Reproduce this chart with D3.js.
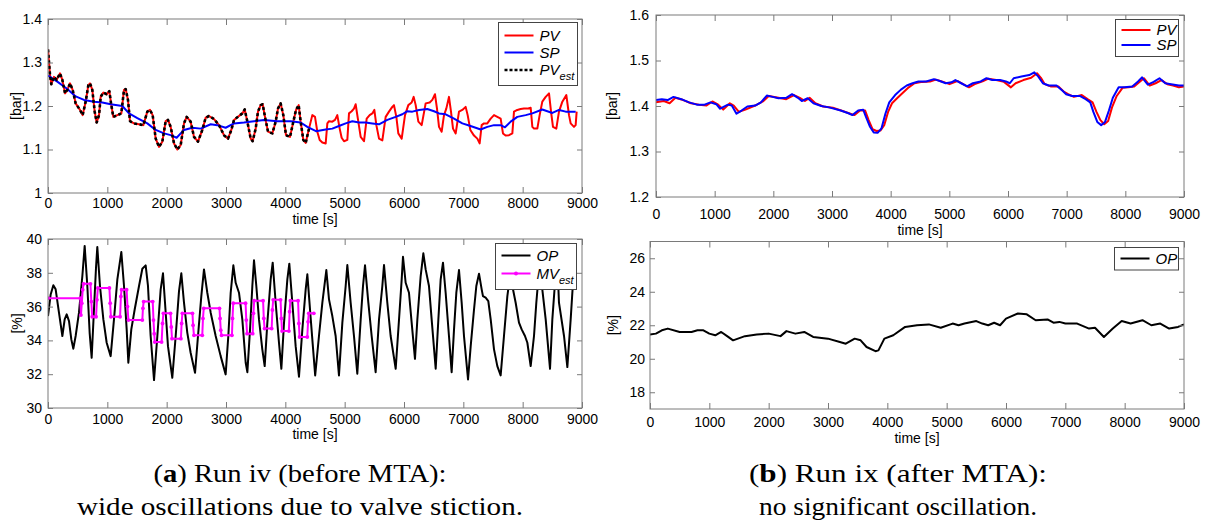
<!DOCTYPE html>
<html>
<head>
<meta charset="utf-8">
<script src="https://cdnjs.cloudflare.com/ajax/libs/d3/7.8.5/d3.min.js"></script>
<style>
body { margin: 0; background: #fff; }
svg text { font-family: "Liberation Sans", Arial, sans-serif; }
</style>
</head>
<body>
<script>
// ---- data, [time s, value] ----
const timeTicks = [0, 1000, 2000, 3000, 4000, 5000, 6000, 7000, 8000, 9000];

// (a) run iv, pressure
const pvA = [[0,1.33],[34,1.271],[56,1.250],[101,1.267],[146,1.260],[202,1.275],[242,1.260],[287,1.229],[326,1.237],[371,1.252],[416,1.237],[466,1.206],[539,1.191],[584,1.179],[635,1.210],[680,1.248],[708,1.252],[747,1.237],[787,1.187],[820,1.162],[860,1.179],[888,1.221],[933,1.231],[989,1.227],[1034,1.234],[1067,1.202],[1101,1.175],[1169,1.179],[1236,1.183],[1281,1.237],[1309,1.239],[1348,1.214],[1382,1.165],[1449,1.160],[1534,1.158],[1607,1.156],[1674,1.187],[1719,1.191],[1764,1.179],[1815,1.125],[1871,1.106],[1927,1.118],[1983,1.165],[2022,1.168],[2067,1.152],[2124,1.114],[2180,1.100],[2236,1.110],[2292,1.160],[2337,1.175],[2404,1.164],[2461,1.129],[2528,1.118],[2601,1.145],[2657,1.173],[2713,1.177],[2798,1.170],[2882,1.156],[2966,1.133],[3034,1.125],[3090,1.145],[3135,1.168],[3191,1.174],[3275,1.183],[3315,1.192],[3360,1.164],[3416,1.125],[3449,1.119],[3500,1.148],[3539,1.187],[3584,1.202],[3618,1.204],[3663,1.171],[3708,1.141],[3781,1.137],[3837,1.164],[3876,1.194],[3921,1.206],[3966,1.179],[4011,1.133],[4079,1.129],[4135,1.164],[4180,1.191],[4225,1.202],[4258,1.164],[4303,1.122],[4343,1.115],[4399,1.148],[4455,1.179],[4500,1.175],[4539,1.141],[4579,1.122],[4624,1.116],[4680,1.114],[4708,1.160],[4736,1.165],[4792,1.164],[4837,1.168],[4876,1.179],[4916,1.148],[4949,1.127],[4989,1.119],[5045,1.122],[5073,1.183],[5118,1.188],[5157,1.194],[5185,1.204],[5230,1.164],[5270,1.129],[5326,1.119],[5371,1.171],[5421,1.179],[5466,1.183],[5500,1.191],[5534,1.156],[5579,1.125],[5635,1.121],[5691,1.175],[5747,1.187],[5803,1.198],[5831,1.202],[5871,1.175],[5904,1.137],[5961,1.125],[6017,1.179],[6073,1.202],[6129,1.208],[6163,1.221],[6197,1.202],[6242,1.164],[6298,1.156],[6365,1.206],[6433,1.208],[6477,1.214],[6522,1.227],[6556,1.194],[6590,1.152],[6635,1.141],[6674,1.179],[6713,1.194],[6758,1.221],[6792,1.187],[6826,1.148],[6871,1.137],[6927,1.187],[6983,1.191],[7039,1.198],[7073,1.179],[7118,1.145],[7180,1.132],[7236,1.125],[7275,1.114],[7309,1.156],[7348,1.160],[7404,1.160],[7461,1.171],[7517,1.179],[7573,1.175],[7629,1.171],[7668,1.137],[7713,1.132],[7770,1.133],[7826,1.137],[7854,1.187],[7910,1.191],[7966,1.193],[8022,1.194],[8079,1.194],[8135,1.196],[8163,1.152],[8191,1.148],[8247,1.148],[8286,1.179],[8331,1.210],[8388,1.221],[8444,1.229],[8478,1.187],[8511,1.152],[8567,1.148],[8612,1.187],[8669,1.210],[8736,1.225],[8781,1.179],[8809,1.160],[8865,1.152],[8893,1.156],[8910,1.187]];
const spA = [[0,1.270],[157,1.256],[326,1.239],[466,1.222],[607,1.214],[775,1.210],[916,1.208],[1056,1.204],[1253,1.200],[1365,1.183],[1506,1.172],[1674,1.160],[1815,1.145],[1955,1.137],[2067,1.133],[2168,1.127],[2292,1.145],[2433,1.150],[2573,1.148],[2742,1.158],[2854,1.156],[2994,1.150],[3135,1.160],[3303,1.162],[3472,1.165],[3640,1.168],[3865,1.165],[4090,1.165],[4258,1.162],[4371,1.152],[4517,1.142],[4680,1.146],[4792,1.148],[4904,1.154],[5017,1.160],[5129,1.165],[5242,1.162],[5354,1.162],[5466,1.160],[5579,1.158],[5719,1.168],[5860,1.175],[5972,1.181],[6056,1.188],[6140,1.187],[6253,1.191],[6393,1.193],[6506,1.188],[6590,1.183],[6702,1.181],[6843,1.171],[6983,1.160],[7096,1.155],[7208,1.150],[7292,1.146],[7404,1.152],[7517,1.156],[7629,1.156],[7702,1.151],[7798,1.164],[7910,1.175],[8051,1.179],[8163,1.183],[8331,1.192],[8416,1.188],[8500,1.184],[8613,1.191],[8725,1.187],[8893,1.187]];
const pvEstEnd = 4420;   // the PV estimate is only shown up to here
const barTicksA = [1, 1.1, 1.2, 1.3, 1.4];

// (a) run iv, controller output and estimated valve position
const opA = [[0,35.44],[45,36.72],[90,37.26],[129,37.02],[185,35.64],[242,34.26],[281,35.24],[315,35.54],[354,35.14],[393,34.06],[427,33.51],[466,34.26],[522,35.64],[579,37.81],[618,39.59],[663,37.22],[702,34.45],[736,32.97],[775,35.83],[809,38.30],[831,39.53],[876,37.22],[933,35.24],[989,33.86],[1056,33.07],[1112,35.24],[1169,37.61],[1236,39.23],[1281,37.22],[1326,34.65],[1354,32.68],[1404,34.65],[1461,35.83],[1534,37.22],[1590,38.24],[1646,38.44],[1685,37.22],[1730,34.26],[1787,31.65],[1843,34.26],[1899,37.02],[1938,37.97],[1972,36.23],[2022,33.66],[2095,31.79],[2152,34.26],[2208,36.92],[2247,37.97],[2292,36.23],[2348,34.45],[2404,33.27],[2478,32.08],[2528,34.26],[2584,36.62],[2629,38.20],[2685,36.82],[2742,35.64],[2826,34.26],[2910,33.07],[2994,31.99],[3039,34.26],[3079,36.82],[3124,38.44],[3163,37.41],[3219,36.82],[3275,35.24],[3332,32.68],[3360,32.12],[3405,34.65],[3444,37.22],[3472,38.74],[3511,37.22],[3556,35.24],[3612,33.47],[3652,32.48],[3697,35.05],[3753,37.61],[3787,38.60],[3837,36.23],[3893,33.86],[3933,32.32],[3978,35.05],[4034,37.61],[4067,38.54],[4118,36.23],[4174,33.66],[4230,31.85],[4287,34.65],[4343,37.02],[4371,37.91],[4416,35.83],[4455,34.06],[4503,31.93],[4567,34.26],[4624,36.23],[4691,38.16],[4736,36.43],[4792,35.44],[4848,34.26],[4904,31.93],[4961,35.05],[5017,37.22],[5045,38.46],[5101,36.23],[5157,34.26],[5213,32.03],[5270,35.24],[5309,37.22],[5343,38.44],[5399,36.23],[5455,34.26],[5522,32.12],[5579,35.24],[5635,37.22],[5663,38.46],[5719,36.23],[5775,34.26],[5860,32.32],[5916,35.24],[5961,37.61],[5983,38.95],[6028,37.41],[6084,36.82],[6129,35.05],[6185,32.91],[6225,35.24],[6281,37.81],[6326,39.15],[6365,38.20],[6421,37.22],[6466,35.24],[6534,32.32],[6579,35.24],[6618,37.61],[6657,38.60],[6702,36.82],[6758,34.26],[6803,32.12],[6843,34.65],[6882,36.82],[6927,38.16],[6972,36.23],[7011,34.26],[7079,31.69],[7124,33.66],[7180,35.83],[7219,37.22],[7264,37.95],[7309,37.02],[7331,36.62],[7376,36.53],[7421,36.33],[7461,35.24],[7517,33.47],[7573,32.48],[7629,31.93],[7685,34.26],[7742,36.62],[7786,37.81],[7826,37.22],[7882,36.23],[7938,35.05],[7983,34.65],[8039,34.26],[8079,33.86],[8135,32.48],[8191,34.26],[8230,36.23],[8280,38.3],[8331,37.02],[8388,35.24],[8461,32.32],[8500,35.24],[8545,37.41],[8585,38.6],[8612,36.23],[8697,34.26],[8753,32.42],[8809,35.24],[8848,37.41],[8880,38.2]];
const mvEstA = [[0,36.5],[545,36.5],[555,35.5],[570,36.2],[585,37.0],[600,37.35],[715,37.35],[730,36.3],[745,35.4],[810,35.4],[825,36.4],[840,37.1],[1035,37.1],[1048,36.2],[1060,35.4],[1215,35.4],[1228,36.6],[1240,37.0],[1325,37.0],[1340,36.0],[1355,35.2],[1590,35.2],[1600,35.9],[1612,36.3],[1765,36.3],[1778,35.2],[1790,34.4],[1800,33.9],[1915,33.9],[1930,35.0],[1945,35.6],[2065,35.6],[2078,34.8],[2090,34.1],[2240,34.1],[2252,35.0],[2265,35.6],[2435,35.6],[2445,34.9],[2460,34.3],[2600,34.3],[2612,35.3],[2625,35.9],[2890,35.9],[2900,35.3],[2912,34.6],[2925,34.3],[3100,34.3],[3110,35.3],[3122,36.2],[3330,36.2],[3342,35.2],[3355,34.4],[3450,34.4],[3462,35.6],[3475,36.35],[3625,36.35],[3637,35.3],[3650,34.7],[3770,34.7],[3782,35.8],[3795,36.4],[3920,36.4],[3932,35.3],[3945,34.55],[4060,34.55],[4072,35.7],[4085,36.35],[4215,36.35],[4228,35.0],[4240,34.2],[4370,34.2],[4383,35.1],[4395,35.6],[4480,35.6]];
const pctTicksA = [30, 32, 34, 36, 38, 40];

// (b) run ix, pressure
const pvB = [[0,1.408],[133,1.411],[232,1.406],[331,1.418],[464,1.413],[596,1.406],[729,1.403],[862,1.401],[961,1.410],[1060,1.403],[1146,1.392],[1259,1.406],[1325,1.401],[1412,1.387],[1524,1.392],[1690,1.401],[1822,1.410],[1922,1.422],[2088,1.418],[2220,1.415],[2353,1.424],[2452,1.418],[2538,1.411],[2618,1.418],[2717,1.406],[2850,1.399],[3015,1.396],[3181,1.389],[3314,1.383],[3380,1.380],[3479,1.390],[3565,1.390],[3625,1.369],[3691,1.349],[3758,1.345],[3824,1.346],[3890,1.358],[3956,1.387],[4023,1.406],[4109,1.417],[4208,1.429],[4308,1.441],[4407,1.450],[4539,1.453],[4672,1.454],[4771,1.458],[4871,1.454],[5003,1.448],[5136,1.455],[5235,1.448],[5335,1.441],[5434,1.448],[5567,1.454],[5666,1.460],[5799,1.457],[5931,1.453],[6050,1.441],[6130,1.450],[6262,1.457],[6395,1.462],[6494,1.472],[6561,1.462],[6627,1.448],[6726,1.443],[6859,1.443],[6958,1.431],[7025,1.426],[7124,1.420],[7257,1.424],[7356,1.415],[7442,1.408],[7508,1.387],[7575,1.369],[7641,1.360],[7707,1.367],[7773,1.397],[7853,1.422],[7952,1.440],[8052,1.441],[8151,1.443],[8251,1.454],[8317,1.461],[8416,1.445],[8516,1.450],[8615,1.457],[8715,1.448],[8814,1.445],[8913,1.441],[9000,1.443]];
const spB = [[0,1.413],[99,1.415],[199,1.413],[298,1.420],[431,1.415],[563,1.408],[696,1.403],[828,1.403],[928,1.408],[1027,1.404],[1093,1.394],[1226,1.403],[1292,1.401],[1372,1.383],[1458,1.390],[1557,1.399],[1690,1.401],[1789,1.408],[1889,1.423],[1988,1.420],[2088,1.417],[2220,1.418],[2319,1.426],[2419,1.418],[2485,1.411],[2585,1.417],[2684,1.406],[2817,1.400],[2949,1.397],[3148,1.390],[3280,1.384],[3347,1.380],[3446,1.390],[3532,1.392],[3579,1.376],[3645,1.355],[3711,1.342],[3777,1.341],[3844,1.351],[3910,1.383],[3976,1.408],[4076,1.424],[4175,1.436],[4274,1.445],[4374,1.450],[4473,1.454],[4606,1.454],[4738,1.459],[4838,1.455],[4937,1.450],[5037,1.452],[5103,1.457],[5202,1.450],[5302,1.443],[5401,1.450],[5534,1.454],[5633,1.461],[5732,1.457],[5865,1.457],[5964,1.454],[6031,1.450],[6097,1.461],[6229,1.465],[6362,1.468],[6448,1.474],[6514,1.465],[6594,1.450],[6693,1.445],[6826,1.445],[6925,1.434],[6991,1.426],[7091,1.422],[7223,1.422],[7323,1.415],[7402,1.408],[7455,1.387],[7522,1.365],[7588,1.358],[7654,1.365],[7720,1.390],[7787,1.418],[7886,1.441],[7986,1.441],[8118,1.443],[8217,1.454],[8284,1.463],[8383,1.447],[8483,1.453],[8582,1.461],[8681,1.450],[8781,1.448],[8913,1.445],[9000,1.445]];
const barTicksB = [1.2, 1.3, 1.4, 1.5, 1.6];

// (b) run ix, controller output
const opB = [[0,21.45],[100,21.5],[200,21.7],[300,21.8],[500,21.6],[700,21.6],[800,21.7],[900,21.7],[1000,21.5],[1100,21.4],[1200,21.6],[1300,21.35],[1400,21.1],[1600,21.35],[1800,21.45],[2000,21.5],[2200,21.35],[2300,21.65],[2450,21.5],[2600,21.6],[2750,21.3],[3000,21.2],[3200,21.0],[3300,20.9],[3450,21.2],[3550,21.1],[3650,20.7],[3800,20.45],[3850,20.5],[3950,21.2],[4100,21.4],[4300,21.9],[4500,22.0],[4700,22.05],[4900,21.85],[5100,22.1],[5200,22.0],[5300,22.1],[5500,22.25],[5600,22.1],[5700,22.0],[5800,22.15],[5900,22.0],[6000,22.4],[6200,22.7],[6350,22.65],[6500,22.3],[6700,22.35],[6800,22.15],[6900,22.2],[7000,22.1],[7200,22.1],[7400,21.8],[7500,21.85],[7650,21.3],[7800,21.8],[7950,22.25],[8100,22.1],[8300,22.3],[8450,22.0],[8600,22.1],[8750,21.8],[8900,21.9],[9000,22.05]];
const pctTicksB = [18, 20, 22, 24, 26];

const captionA = ["Run iv (before MTA):", "wide oscillations due to valve stiction."];
const captionB = ["Run ix (after MTA):", "no significant oscillation."];

// ---- drawing ----
const svg = d3.select("body").append("svg")
    .attr("width", 1209)
    .attr("height", 525);

let panelCount = 0;

function drawPanel(p) {
    panelCount++;
    const x = d3.scaleLinear().domain([0, 9000]).range([p.left, p.right]);
    const y = d3.scaleLinear().domain(p.yDomain).range([p.bottom, p.top]);
    const g = svg.append("g");

    const clipId = "clip" + panelCount;
    svg.append("clipPath").attr("id", clipId)
        .append("rect")
        .attr("x", p.left).attr("y", p.top)
        .attr("width", p.right - p.left).attr("height", p.bottom - p.top);

    const lines = g.append("g").attr("clip-path", "url(#" + clipId + ")");
    p.series.forEach(function(s) {
        const line = d3.line().x(d => x(d[0])).y(d => y(d[1]));
        lines.append("path")
            .datum(s.data)
            .attr("d", line)
            .attr("fill", "none")
            .attr("stroke", s.color)
            .attr("stroke-width", s.width || 2)
            .attr("stroke-dasharray", s.dash || null)
            .attr("stroke-linejoin", "round");
        if (s.markers) {
            lines.selectAll(null)
                .data(s.data)
                .enter()
                .append("circle")
                .attr("cx", d => x(d[0]))
                .attr("cy", d => y(d[1]))
                .attr("r", 1.9)
                .attr("fill", s.color);
        }
    });

    // axes, ticks pointing inwards on all four sides
    const axes = [
        {ax: d3.axisBottom(x).tickValues(timeTicks).tickFormat(d3.format("d")), tr: "translate(0," + p.bottom + ")", pad: p.xPad},
        {ax: d3.axisTop(x).tickValues(timeTicks).tickFormat(""), tr: "translate(0," + p.top + ")", pad: 3},
        {ax: d3.axisLeft(y).tickValues(p.yTicks).tickFormat(d3.format("~g")), tr: "translate(" + p.left + ",0)", pad: p.yPad},
        {ax: d3.axisRight(y).tickValues(p.yTicks).tickFormat(""), tr: "translate(" + p.right + ",0)", pad: 3}
    ];
    axes.forEach(function(a, i) {
        const len = i < 2 ? 6 : 5;
        a.ax.tickSizeInner(-len).tickSizeOuter(0).tickPadding(a.pad);
        const ag = g.append("g").attr("transform", a.tr).call(a.ax);
        ag.select(".domain").remove();
        ag.selectAll(".tick line").attr("stroke", "#7a7a7a");
        ag.selectAll(".tick text")
            .attr("fill", "#000")
            .style("font-size", "14px")
            .style("font-family", '"Liberation Sans", Arial, sans-serif');
    });

    g.append("rect")
        .attr("x", p.left).attr("y", p.top)
        .attr("width", p.right - p.left).attr("height", p.bottom - p.top)
        .attr("fill", "none")
        .attr("stroke", "#7a7a7a")
        .attr("stroke-width", 1);

    g.append("text")
        .attr("x", (p.left + p.right) / 2)
        .attr("y", p.xLabelY)
        .attr("text-anchor", "middle")
        .style("font-size", "14px")
        .text("time [s]");

    g.append("text")
        .attr("transform", "translate(" + p.yLabelX + "," + ((p.top + p.bottom) / 2) + ") rotate(-90)")
        .attr("text-anchor", "middle")
        .attr("dy", "0.35em")
        .style("font-size", "14px")
        .text(p.yLabel);

    // legend box on top of the lines
    const lg = p.legend;
    g.append("rect")
        .attr("x", lg.x).attr("y", lg.y)
        .attr("width", lg.w).attr("height", lg.h)
        .attr("fill", "#fff")
        .attr("stroke", "#444")
        .attr("stroke-width", 1);
    lg.items.forEach(function(it, i) {
        const cy = lg.rowY[i];
        g.append("line")
            .attr("x1", lg.x + 6).attr("x2", lg.x + 35)
            .attr("y1", cy).attr("y2", cy)
            .attr("stroke", it.color)
            .attr("stroke-width", it.width || 2)
            .attr("stroke-dasharray", it.dash || null);
        if (it.markers) {
            g.append("circle")
                .attr("cx", lg.x + 20.5).attr("cy", cy).attr("r", 2)
                .attr("fill", it.color);
        }
        const t = g.append("text")
            .attr("x", lg.x + 41)
            .attr("y", cy + 5)
            .style("font-size", "15px")
            .style("font-style", "italic");
        t.append("tspan").text(it.name);
        if (it.sub) {
            t.append("tspan")
                .attr("dy", 5)
                .style("font-size", "11px")
                .text(it.sub);
        }
    });
}

drawPanel({
    left: 48, right: 582, top: 19, bottom: 193,
    yDomain: [1, 1.4], yTicks: barTicksA, yLabel: "[bar]", yLabelX: 16,
    xPad: 5, yPad: 6, xLabelY: 224,
    series: [
        {data: pvA, color: "#ff0000"},
        {data: spA, color: "#0000ff"},
        {data: pvA.filter(d => d[0] <= pvEstEnd), color: "#000", width: 2.6, dash: "3,2.5"}
    ],
    legend: {x: 498.5, y: 22.5, w: 79, h: 63, rowY: [35.5, 52.5, 70],
        items: [
            {name: "PV", color: "#ff0000"},
            {name: "SP", color: "#0000ff"},
            {name: "PV", sub: "est", color: "#000", width: 2.6, dash: "3,2"}
        ]}
});

drawPanel({
    left: 48, right: 582, top: 239, bottom: 408,
    yDomain: [30, 40], yTicks: pctTicksA, yLabel: "[%]", yLabelX: 17,
    xPad: 6, yPad: 6, xLabelY: 439,
    series: [
        {data: opA, color: "#000"},
        {data: mvEstA, color: "#ff00ff", markers: true}
    ],
    legend: {x: 495.5, y: 243.5, w: 81, h: 46, rowY: [255.5, 273.5],
        items: [
            {name: "OP", color: "#000"},
            {name: "MV", sub: "est", color: "#ff00ff", markers: true}
        ]}
});

drawPanel({
    left: 656, right: 1184, top: 15, bottom: 197,
    yDomain: [1.2, 1.6], yTicks: barTicksB, yLabel: "[bar]", yLabelX: 612,
    xPad: 12, yPad: 7, xLabelY: 235,
    series: [
        {data: pvB, color: "#ff0000"},
        {data: spB, color: "#0000ff"}
    ],
    legend: {x: 1115.5, y: 19.5, w: 63, h: 37, rowY: [30, 45],
        items: [
            {name: "PV", color: "#ff0000"},
            {name: "SP", color: "#0000ff"}
        ]}
});

drawPanel({
    left: 650, right: 1184, top: 241.5, bottom: 409,
    yDomain: [17, 27], yTicks: pctTicksB, yLabel: "[%]", yLabelX: 613,
    xPad: 8, yPad: 5, xLabelY: 443,
    series: [
        {data: opB, color: "#000"}
    ],
    legend: {x: 1114.5, y: 247.5, w: 64, h: 22.5, rowY: [258.5],
        items: [
            {name: "OP", color: "#000"}
        ]}
});

// sub-figure captions; the original face is wider than Times, so the
// lines are stretched to the widths measured on the reference
function caption(cx, letter, lines, widths) {
    const t1 = svg.append("text")
        .attr("x", cx).attr("y", 482)
        .attr("text-anchor", "middle")
        .attr("textLength", widths[0])
        .attr("lengthAdjust", "spacingAndGlyphs")
        .style("font-family", '"Liberation Serif", "Times New Roman", serif')
        .style("font-size", "26px");
    t1.append("tspan").text("(");
    t1.append("tspan").style("font-weight", "bold").text(letter);
    t1.append("tspan").text(") " + lines[0]);
    svg.append("text")
        .attr("x", cx).attr("y", 515)
        .attr("text-anchor", "middle")
        .attr("textLength", widths[1])
        .attr("lengthAdjust", "spacingAndGlyphs")
        .style("font-family", '"Liberation Serif", "Times New Roman", serif')
        .style("font-size", "26px")
        .text(lines[1]);
}
caption(300, "a", captionA, [293, 446]);
caption(898, "b", captionB, [298, 278]);
</script>
</body>
</html>
